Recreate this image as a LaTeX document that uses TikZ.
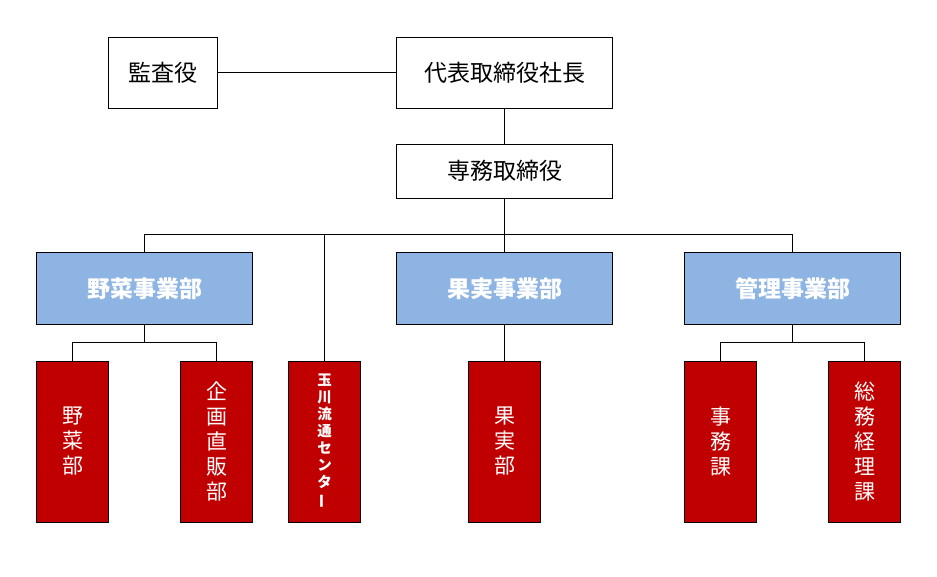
\documentclass[tikz,border=0pt]{standalone}
\usepackage{fontspec}
\usepackage{graphicx}
\newfontfamily\cjk{Noto Sans CJK JP}
\definecolor{divblue}{RGB}{141,180,226}
\definecolor{unitred}{RGB}{192,0,0}
\tikzset{
  base/.style={draw=black, line width=0.9pt, inner sep=0pt, outer sep=0pt, align=center},
  topbox/.style={base, fill=white, minimum height=71pt, font=\fontsize{23}{26}\selectfont\cjk},
  divbox/.style={base, fill=divblue, text=white, minimum width=216pt, minimum height=72pt, font=\fontsize{23}{26}\selectfont\cjk\bfseries},
  unitbox/.style={base, fill=unitred, text=white, minimum width=72pt, minimum height=161pt, font=\fontsize{21}{25}\selectfont\cjk},
  smallunit/.style={unitbox, font=\fontsize{14.5}{17}\selectfont\cjk\bfseries},
  link/.style={draw=black, line width=0.9pt}
}
\begin{document}
\begin{tikzpicture}[x=1pt,y=-1pt]
\useasboundingbox (0,0) rectangle (937,577);
\fill[white] (0,0) rectangle (937,577);
% top level
\node[topbox, minimum width=109pt] (kansa) at (162.5,72.5) {監査役};
\node[topbox, minimum width=216pt] (ceo) at (504.5,72.5) {代表取締役社長};
\node[base, fill=white, minimum width=216pt, minimum height=54pt, font=\fontsize{23}{26}\selectfont\cjk] (senmu) at (504.5,171) {専務取締役};
% divisions
\node[divbox] (yasai) at (144.5,288.5) {野菜事業部};
\node[divbox] (kajitsu) at (504.5,288.5) {果実事業部};
\node[divbox] (kanri) at (792.5,288.5) {管理事業部};
% units
\node[unitbox] (yasaibu) at (72.5,441.5) {野\\菜\\部};
\node[unitbox] (kikaku) at (216.5,441.5) {企\\画\\直\\販\\部};
\node[smallunit] (tama) at (324.5,441.5) {玉\\川\\流\\通\\セ\\ン\\タ\\\rotatebox[origin=c]{90}{ー}};
\node[unitbox] (kajitsubu) at (504.5,441.5) {果\\実\\部};
\node[unitbox] (jimu) at (720.5,441.5) {事\\務\\課};
\node[unitbox] (somu) at (864.5,441.5) {総\\務\\経\\理\\課};
% bus coordinates
\coordinate (busR) at (792.5,234.5);
\coordinate (subL) at (216.5,342.5);
\coordinate (subR) at (864.5,342.5);
% connectors
\draw[link] (kansa.east) -- (ceo.west);
\draw[link] (ceo.south) -- (senmu.north);
\draw[link] (senmu.south) -- (senmu.south |- busR);
\draw[link] (yasai.north) |- (busR) -- (kanri.north);
\draw[link] (tama.north) -- (tama.north |- busR);
\draw[link] (kajitsu.north) -- (kajitsu.north |- busR);
\draw[link] (yasai.south) -- (yasai.south |- subL);
\draw[link] (yasaibu.north) |- (subL) -- (kikaku.north);
\draw[link] (kajitsu.south) -- (kajitsubu.north);
\draw[link] (kanri.south) -- (kanri.south |- subR);
\draw[link] (jimu.north) |- (subR) -- (somu.north);
\end{tikzpicture}
\end{document}
